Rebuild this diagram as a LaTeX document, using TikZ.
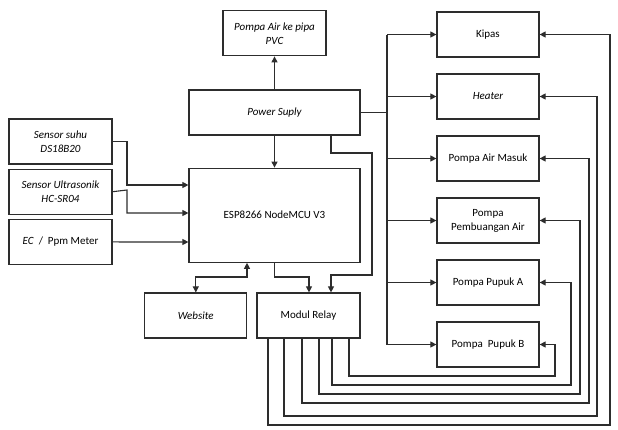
\documentclass[tikz,border=0pt]{standalone}
\usepackage{fontspec}
\setmainfont{Carlito}
\usetikzlibrary{arrows.meta,positioning,calc}
\definecolor{ink}{RGB}{45,45,45}

\begin{document}
\begin{tikzpicture}[x=1pt, y=-1pt, node distance=15.8pt, line width=1.1pt, draw=ink,
    every node/.style={draw=ink, line width=1.2pt, minimum height=45pt, align=center, font=\fontsize{11}{14}\selectfont},
    ital/.style={font=\fontsize{11}{14}\selectfont\itshape},
    >={Triangle[length=6pt,width=6pt]}]
    \useasboundingbox (0,0) rectangle (618,429);
    % middle column
    \node[ital, minimum width=171pt] (power) at (274.5,112.5) {Power Suply};
    \node[ital, minimum width=103pt, above=33pt of power] (pvc) {Pompa Air ke pipa\\PVC};
    \node[minimum width=171pt, minimum height=94pt, below=32pt of power] (esp) {ESP8266 NodeMCU V3};
    \node[minimum width=103pt] (relay) at (308.5,315.5) {Modul Relay};
    \node[ital, minimum width=102pt, left=9pt of relay] (web) {Website};
    % sensors
    \node[ital, minimum width=103pt] (suhu) at (60.5,141.5) {Sensor suhu\\DS18B20};
    \node[ital, minimum width=103pt, below=4pt of suhu] (ultra) {Sensor Ultrasonik\\HC-SR04};
    \node[minimum width=103pt, below=4pt of ultra] (ec) {\textit{EC}~~/~~Ppm Meter};
    % actuators
    \node[minimum width=102pt] (kipas) at (488,34.5) {Kipas};
    \node[ital, minimum width=102pt, below=of kipas] (heater) {Heater};
    \node[minimum width=102pt, below=of heater] (masuk) {Pompa Air Masuk};
    \node[minimum width=102pt, below=of masuk] (buang) {Pompa\\Pembuangan Air};
    \node[minimum width=102pt, below=of buang] (pupuka) {Pompa Pupuk A};
    \node[minimum width=102pt, below=of pupuka] (pupukb) {Pompa~~Pupuk B};
    \coordinate (bus) at (387,0);

    \draw[->] (power.north) -- (pvc.south);
    \draw[->] (power.south) -- (esp.north);
    \draw[->] (suhu.east) -- (127,141.5) |- (esp.west |- 0,185);
    \draw[->] (ultra.east) -- (127,190) |- (esp.west |- 0,213);
    \draw[->] (ec.east) -- (127,242) -- (esp.west |- 0,242);
    \draw[<->] (web.north) |- (247,277) -- (esp.south -| 247,0);
    \draw[->] (esp.south) |- (309,277) -- (relay.north -| 309,0);
    \draw[->] (power.south -| 331,0) -- (331,153) -| (372,275) -| (relay.north -| 331,0);
    % power bus
    \draw[line width=1.8pt] (power.east) -- (bus |- power.east);
    \draw (bus |- kipas.west) -- (bus |- power.east);
    \draw[line width=1.5pt] (bus |- power.east) -- (bus |- pupukb.west);
    \foreach \n in {kipas,heater,masuk,buang,pupuka,pupukb}
      \draw[->] (bus |- \n.west) -- (\n.west);
    % relay outputs
    \foreach \n/\a/\b/\c in {kipas/268/425/610, heater/284/416/597, masuk/302/403/589, buang/319/394/580, pupuka/332/385/571, pupukb/349/376/555}
      \draw[->] (relay.south -| \a,0) |- (\c,\b) |- (\n.east);
\end{tikzpicture}
\end{document}
